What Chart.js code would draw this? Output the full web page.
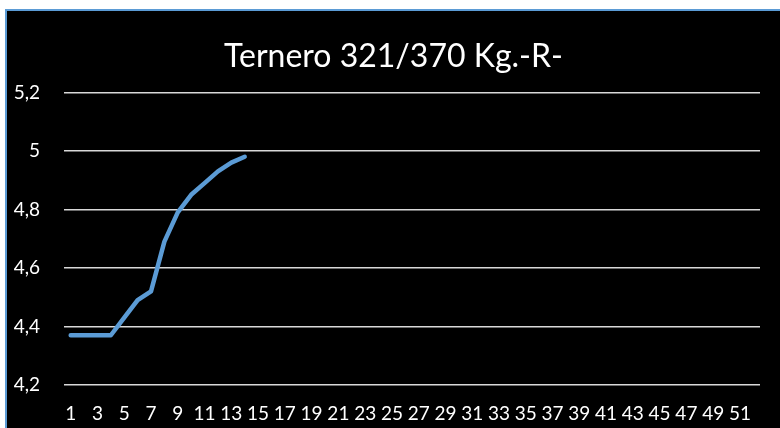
<!DOCTYPE html>
<html>
<head>
<meta charset="utf-8">
<script src="https://cdn.jsdelivr.net/npm/chart.js@4/dist/chart.umd.min.js"></script>
<style>
  html, body { margin: 0; padding: 0; background: #fff; overflow: hidden; }
  .frame {
    position: absolute; left: 5px; top: 9px;
    width: 773px; height: 419px;
    border-left: 2px solid #5b9bd5; border-top: 2px solid #5b9bd5;
    background: #000;
  }
  .frame canvas { display: block; }
</style>
</head>
<body>
<div class="frame">
  <canvas id="chart" width="773" height="417"></canvas>
</div>
<script>
/* --------------------------------- Data --------------------------------- */
const weeks = Array.from({ length: 52 }, (_, i) => String(i + 1));
const values = [4.37, 4.37, 4.37, 4.37, 4.43, 4.49, 4.52, 4.69, 4.79, 4.85, 4.89, 4.93, 4.96, 4.98];
const yTicks = [4.2, 4.4, 4.6, 4.8, 5, 5.2];

const titleText = "Ternero 321/370 Kg.-R-";

/* --------------------------------- Chart -------------------------------- */
const ctx = document.getElementById("chart").getContext("2d");

new Chart(ctx, {
  type: "line",
  data: {
    labels: weeks,
    datasets: [
      {
        label: "Ternero",
        data: values,
        borderColor: "#5b9bd5",
        borderWidth: 4.5,
        borderCapStyle: "round",
        borderJoinStyle: "round",
        pointRadius: 0,
        tension: 0,
        fill: false,
      },
    ],
  },
  options: {
    responsive: false,
    animation: false,
    layout: { padding: 0 },
    plugins: {
      legend: { display: false },
      tooltip: { enabled: false },
      title: {
        display: true,
        text: titleText,
        color: "#ffffff",
        font: { family: "Lato, sans-serif", size: 32, weight: "400", lineHeight: 1.2 },
        padding: { top: 26, bottom: 17 },
      },
    },
    scales: {
      x: {
        offset: true,
        grid: { display: false, tickLength: 0 },
        border: { display: false },
        ticks: {
          autoSkip: false,
          maxRotation: 0,
          padding: 17,
          color: "#ffffff",
          font: { family: "Lato, sans-serif", size: 19 },
          callback: (val, i) => (i % 2 === 0 ? weeks[i] : ""),
        },
        afterFit: (scale) => { scale.height = 43; },
      },
      y: {
        min: 4.2,
        max: 5.2,
        afterBuildTicks: (scale) => { scale.ticks = yTicks.map((v) => ({ value: v })); },
        grid: { color: "#d9d9d9", lineWidth: 1.5, tickLength: 0 },
        border: { display: false },
        ticks: {
          padding: 24,
          color: "#ffffff",
          font: { family: "Lato, sans-serif", size: 19 },
          callback: (v) => String(Math.round(v * 10) / 10).replace(".", ","),
        },
        afterFit: (scale) => { scale.width = 57; },
      },
      // empty right-hand spacer so the plot stops short of the edge
      spacer: {
        type: "linear",
        position: "right",
        grid: { display: false, drawTicks: false },
        border: { display: false },
        ticks: { display: false },
        afterFit: (scale) => { scale.width = 20; },
      },
    },
  },
});
</script>
</body>
</html>
